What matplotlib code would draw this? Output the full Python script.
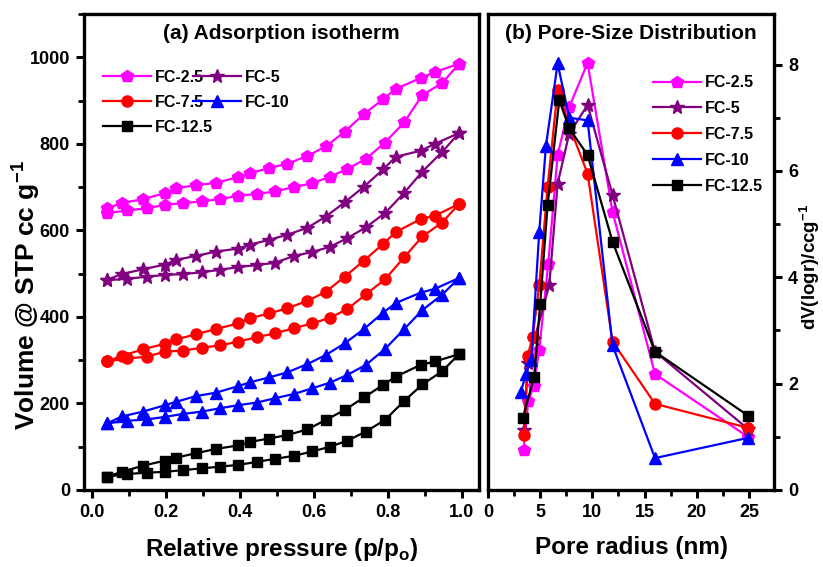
import matplotlib
matplotlib.use("Agg")
import matplotlib.pyplot as plt
from matplotlib.ticker import MultipleLocator
from matplotlib import font_manager

names = {f.name for f in font_manager.fontManager.ttflist}
NARROW = ['Liberation Sans Narrow', 'Liberation Sans', 'DejaVu Sans'] if 'Liberation Sans Narrow' in names else ['Liberation Sans', 'DejaVu Sans']
REG = ['Liberation Sans', 'DejaVu Sans']
plt.rcParams['font.family'] = REG
plt.rcParams['mathtext.fontset'] = 'custom'
plt.rcParams['mathtext.rm'] = 'Liberation Sans:bold'
plt.rcParams['mathtext.bf'] = 'Liberation Sans:bold'

labels = ["FC-2.5", "FC-5", "FC-7.5", "FC-10", "FC-12.5"]
colors = ["#FF00FF", "#800080", "#FF0000", "#0000FF", "#000000"]
markers = ["p", "*", "o", "^", "s"]
msizes = [9, 10, 8, 8, 6.5]

# ---- (a) adsorption isotherm ----
p_ads = [0.042, 0.096, 0.149, 0.198, 0.248, 0.297, 0.347, 0.396, 0.446, 0.495,
         0.547, 0.596, 0.644, 0.691, 0.741, 0.793, 0.845, 0.894, 0.947, 0.993]
p_des = [0.993, 0.928, 0.889, 0.822, 0.788, 0.736, 0.684, 0.633, 0.583, 0.529,
         0.479, 0.428, 0.396, 0.336, 0.282, 0.229, 0.198, 0.138, 0.081, 0.042]

ads_fc25 = [640, 646, 651, 659, 663, 667, 672, 680, 684, 690, 700, 709, 724, 742, 765, 803, 850, 913, 940, 985]
des_fc25 = [985, 966, 952, 927, 903, 869, 828, 794, 772, 754, 744, 732, 723, 710, 704, 698, 686, 672, 663, 651]
ads_fc5 = [485, 488, 493, 497, 499, 503, 509, 515, 520, 525, 541, 550, 562, 582, 607, 640, 687, 736, 781, 825]
des_fc5 = [825, 800, 784, 770, 741, 701, 665, 632, 606, 590, 578, 567, 558, 551, 541, 532, 521, 510, 499, 486]
ads_fc75 = [297, 304, 308, 320, 322, 329, 334, 343, 353, 362, 374, 385, 398, 418, 452, 487, 538, 586, 618, 661]
des_fc75 = [661, 634, 626, 596, 569, 530, 493, 458, 437, 420, 408, 397, 385, 372, 360, 348, 338, 325, 310, 297]
ads_fc10 = [154, 160, 163, 169, 176, 181, 189, 196, 202, 212, 222, 235, 248, 266, 289, 326, 372, 416, 451, 490]
des_fc10 = [490, 465, 456, 432, 410, 372, 339, 312, 291, 272, 260, 249, 240, 225, 217, 204, 196, 181, 170, 154]
ads_fc125 = [31, 37, 40, 42, 46, 50, 54, 58, 65, 72, 79, 89, 100, 114, 135, 162, 206, 244, 274, 314]
des_fc125 = [314, 297, 289, 262, 243, 214, 185, 162, 140, 127, 119, 111, 103, 95, 85, 75, 68, 56, 42, 31]

ads_all = [ads_fc25, ads_fc5, ads_fc75, ads_fc10, ads_fc125]
des_all = [des_fc25, des_fc5, des_fc75, des_fc10, des_fc125]

# ---- (b) pore size distribution ----
r_fc25 = [3.41, 3.86, 4.37, 4.91, 5.77, 6.67, 7.78, 9.54, 11.93, 16.0, 24.9]
v_fc25 = [0.76, 1.68, 1.95, 2.64, 4.25, 6.30, 7.20, 8.03, 5.23, 2.18, 1.00]
r_fc5 = [3.48, 3.80, 4.43, 5.87, 6.67, 7.78, 9.54, 11.93, 16.0, 24.9]
v_fc5 = [1.13, 2.38, 2.83, 3.85, 5.76, 6.70, 7.24, 5.55, 2.60, 1.15]
r_fc75 = [3.48, 3.80, 4.28, 4.91, 5.71, 6.67, 7.78, 9.54, 11.93, 16.0, 24.9]
v_fc75 = [1.03, 2.52, 2.88, 3.85, 5.70, 7.52, 6.85, 5.95, 2.79, 1.62, 1.17]
r_fc10 = [3.16, 3.64, 4.15, 4.91, 5.55, 6.67, 7.78, 9.54, 11.93, 16.0, 24.9]
v_fc10 = [1.85, 2.19, 2.45, 4.86, 6.47, 8.02, 7.00, 6.95, 2.72, 0.60, 0.98]
r_fc125 = [3.32, 4.43, 5.00, 5.71, 6.83, 7.78, 9.54, 11.93, 16.0, 24.9]
v_fc125 = [1.35, 2.13, 3.50, 5.36, 7.33, 6.80, 6.30, 4.67, 2.60, 1.40]

r_all = [r_fc25, r_fc5, r_fc75, r_fc10, r_fc125]
v_all = [v_fc25, v_fc5, v_fc75, v_fc10, v_fc125]

fig = plt.figure(figsize=(8.23, 5.67), dpi=100)
W, H = 823, 567
def rect(x0, y0, x1, y1):
    return [x0 / W, 1 - y1 / H, (x1 - x0) / W, (y1 - y0) / H]

axa = fig.add_axes(rect(84, 14, 479, 490))
axb = fig.add_axes(rect(488, 14, 774, 490))

for ax in (axa, axb):
    for s in ax.spines.values():
        s.set_linewidth(2.4)
    ax.tick_params(which='major', direction='out', length=6, width=2.2,
                   labelsize=13, pad=4)
    ax.tick_params(which='minor', direction='out', length=4, width=2.0)

handles = []
for i in range(5):
    xs = p_ads + p_des
    ys = ads_all[i] + des_all[i]
    h, = axa.plot(xs, ys, color=colors[i], marker=markers[i], ms=msizes[i],
                  lw=1.6, mec=colors[i], label=labels[i])
    handles.append(h)

axa.set_xlim(-0.021, 1.047)
axa.set_ylim(0, 1100)
axa.xaxis.set_major_locator(MultipleLocator(0.2))
axa.xaxis.set_minor_locator(MultipleLocator(0.1))
axa.yaxis.set_major_locator(MultipleLocator(200))
axa.yaxis.set_minor_locator(MultipleLocator(100))
axa.set_xticks([0.0, 0.2, 0.4, 0.6, 0.8, 1.0])
axa.set_xticklabels(["0.0", "0.2", "0.4", "0.6", "0.8", "1.0"])
for lab in axa.get_xticklabels() + axa.get_yticklabels():
    lab.set_fontfamily(NARROW); lab.set_fontweight('bold')
axa.set_xlabel("Relative pressure (p/p$_\\mathbf{o}$)", fontsize=17.5, fontweight='bold',
               family=NARROW, labelpad=11)
axa.set_ylabel("Volume @ STP cc g$^{\\mathbf{-1}}$", fontsize=19, fontweight='bold')
axa.yaxis.set_label_coords(-0.106, 0.41)
axa.text(0.5, 0.958, "(a) Adsorption isotherm", transform=axa.transAxes,
         ha='center', va='center', fontsize=15, fontweight='bold')
order = [0, 2, 4, 1, 3]
leg = axa.legend([handles[k] for k in order], [labels[k] for k in order], ncol=2,
                 loc='upper left', bbox_to_anchor=(0.02, 0.906), frameon=False,
                 prop={'weight': 'bold', 'size': 11.5}, handlelength=3.0,
                 handletextpad=0.25, columnspacing=-1.25, labelspacing=0.62,
                 borderaxespad=0.3)

hb = []
for i in range(5):
    h, = axb.plot(r_all[i], v_all[i], color=colors[i], marker=markers[i], ms=msizes[i],
                  lw=1.6, mec=colors[i], label=labels[i])
    hb.append(h)

axb.set_xlim(0, 27.4)
axb.set_ylim(0, 8.95)
axb.xaxis.set_major_locator(MultipleLocator(5))
axb.xaxis.set_minor_locator(MultipleLocator(2.5))
axb.yaxis.set_major_locator(MultipleLocator(2))
axb.yaxis.set_minor_locator(MultipleLocator(1))
axb.yaxis.tick_right()
axb.yaxis.set_label_position('right')
axb.tick_params(axis='y', which='both', left=False, right=True)
for lab in axb.get_xticklabels() + axb.get_yticklabels():
    lab.set_fontfamily(NARROW); lab.set_fontweight('bold')
axb.set_xlabel("Pore radius (nm)", fontsize=17.5, fontweight='bold', family=NARROW, labelpad=11)
axb.set_ylabel("dV(logr)/ccg$^{\\mathbf{-1}}$", fontsize=13.5, fontweight='bold', rotation=90)
axb.yaxis.set_label_coords(1.08, 0.468)
axb.text(0.5, 0.958, "(b) Pore-Size Distribution", transform=axb.transAxes,
         ha='center', va='center', fontsize=15, fontweight='bold')
axb.legend(hb, labels, loc='upper right', bbox_to_anchor=(1.0, 0.895), frameon=False,
           prop={'weight': 'bold', 'size': 11.5}, handlelength=3.0,
           handletextpad=0.25, labelspacing=0.68, borderaxespad=0.3)

fig.savefig("out.png", dpi=100)
